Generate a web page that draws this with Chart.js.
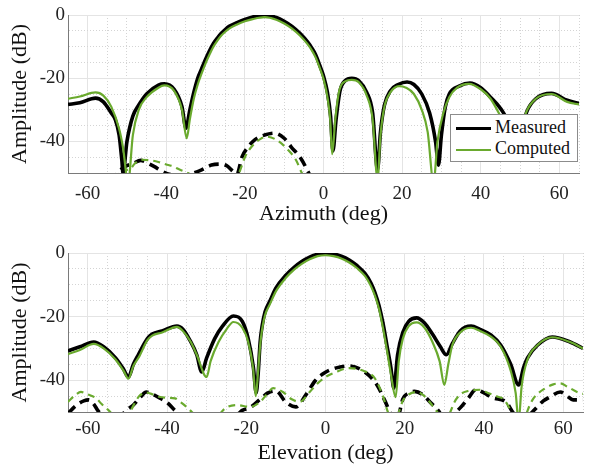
<!DOCTYPE html>
<html>
<head>
<meta charset="utf-8">
<script src="https://cdn.jsdelivr.net/npm/chart.js@4.4.1/dist/chart.umd.min.js"></script>
<style>
  body { margin: 0; background: #fff; }
  #wrap { position: relative; width: 589px; height: 468px; }
  .box { position: absolute; left: 0; width: 589px; height: 234px; }
  #legend {
    position: absolute; left: 450px; top: 114px; width: 126px; height: 46px;
    background: #fff; border: 1px solid #8c8c8c;
    font-family: "Liberation Serif", "Times New Roman", serif; font-size: 18px; color: #111;
  }
  .item { position: absolute; left: 5px; height: 20px; line-height: 20px; white-space: nowrap; }
  .item span.ln { display: inline-block; width: 35px; vertical-align: middle; margin-right: 4px; }
</style>
</head>
<body>
<div id="wrap">
  <div class="box" style="top:0"><canvas id="az"></canvas></div>
  <div class="box" style="top:234px"><canvas id="el"></canvas></div>
  <div id="legend">
    <div class="item" style="top:2px"><span class="ln" style="border-top:3.5px solid #000"></span>Measured</div>
    <div class="item" style="top:23px"><span class="ln" style="border-top:2px solid #6aaa2e"></span>Computed</div>
  </div>
</div>
<script>
// Azimuth cut
const azMeasX = [-65,-62,-58,-56,-54,-53,-52,-51.3,-51,-50,-48.5,-47,-45,-42,-40.5,-38,-36,-35,-34,-33,-32,-31,-30,-29,-28,-27,-26,-25,-24,-22,-20,-18,-15,-12,-10,-8,-6,-4,-3,-2,-1,0,1,1.8,2.4,3.2,4.2,5.5,7.2,9,11,12.5,13.75,14.5,15.5,17,19,21.25,23,25,27,28.5,29.25,30,31,32,34.5,37.25,40,42.5,45,47,49,50.5,51.75,54,58,62,65];
const azMeas  = [-28.3,-27.8,-26.3,-27.5,-31,-33,-38,-46,-50,-40,-32,-28.5,-25,-22.2,-21.8,-23.5,-29,-35.8,-30,-24.5,-20,-17,-14,-11.3,-9,-7.3,-5.8,-4.6,-3.6,-2.4,-1.4,-0.6,0,-0.8,-2,-3.6,-5.8,-8.6,-10.4,-12.6,-15.8,-19.3,-24.5,-32,-43,-33,-24,-20.8,-20,-20.8,-24.5,-31,-49,-37,-28.5,-24,-22,-21.2,-22,-25,-31,-40,-47.5,-38,-29,-25,-22.5,-21.5,-23,-26,-29.5,-34,-44,-36,-30.5,-26.5,-24.8,-27,-28];
const azCompX = [-65,-62,-58,-56,-54,-52,-51,-49.7,-48.5,-47,-45,-42,-40.5,-38,-36,-34.8,-34,-33,-32,-31,-30,-29,-28,-27,-26,-25,-24,-22,-20,-18,-15,-12,-10,-8,-6,-4,-3,-2,-1,0,1,1.7,2.2,3,4,5.5,7.2,9,11,12.5,13.75,14.5,15.5,17,19.25,21,23,25,26.5,28,29,30.5,32,34,37,40,42.5,45,47,49,50.5,51.5,54,58,62,65];
const azComp  = [-26.5,-25.8,-24.5,-25.5,-29,-36,-42,-53,-38,-30,-26,-23,-22.3,-24,-30,-39,-33,-26.5,-22,-18.5,-15.3,-12.5,-10,-8.1,-6.5,-5.3,-4.3,-3,-2,-1.3,-0.7,-1.5,-2.7,-4.3,-6.5,-9.3,-11.1,-13.4,-16.6,-20.2,-26,-33,-44,-33,-24,-21,-20.5,-21.3,-25.5,-33,-52,-38,-29,-24.5,-22.5,-23,-25,-30,-37,-53,-40,-31,-26,-23,-21.8,-23.5,-26.5,-32,-37,-45,-36,-31,-26.5,-25,-27.5,-28.3];
const azMeasXpolX = [-54,-52.5,-50.5,-48.5,-46.5,-44.5,-43,-41,-39,-36,-33,-31,-28.5,-26,-24.5,-23,-22,-20.75,-19,-17.5,-15,-12.5,-10,-8.25,-5.75,-3.75,-2.5];
const azMeasXpol  = [-53,-50,-48,-47,-46,-47,-48,-49.5,-50.5,-51,-50,-49,-47.5,-47.2,-47.8,-49.5,-50.3,-45,-41.5,-39.5,-38,-37.4,-39,-41.7,-45.4,-50,-53];
const azCompXpolX = [-53,-52,-51,-50,-49,-48,-46.25,-44,-42,-40,-38.75,-36.5,-34.5,-33,-30,-25,-22.5,-21.5,-20,-18.25,-16,-14.5,-12,-9,-7,-5.5,-4];
const azCompXpol  = [-52,-50,-48.5,-49,-48.5,-47,-45.8,-46,-46.5,-47.3,-47.7,-49,-50,-51,-53,-53,-52,-50,-45,-41.6,-39.2,-38.5,-39.5,-42.7,-45.9,-50,-53];

// Elevation cut
const elMeasX = [-65,-62,-58.5,-56,-53,-51,-49.75,-48.5,-47.25,-45,-43.75,-41.25,-37.5,-36,-34.25,-32.5,-31.25,-30,-28,-26,-23.25,-21,-19.5,-18.2,-17.5,-17,-16.5,-16,-15.25,-14,-12.5,-10,-8,-6,-4,-2,0,2,4,6,8,10,11.5,12.5,13.5,14.5,15.5,16.5,17.25,18.2,19.5,21,23,25,27,29,30.5,32,34,36.75,39,41.75,44.25,46.75,48.75,50,51,53.5,57.25,61.75,65];
const elMeas  = [-30.8,-29.5,-28,-29.5,-33,-36.5,-39,-35,-32,-27,-25.5,-24.5,-23,-24,-27.4,-32,-37.4,-33,-27,-23,-19.8,-21.5,-27,-36,-44,-38,-28,-23,-18.5,-15,-11,-7,-4.6,-2.7,-1.3,-0.4,0,-0.3,-1,-2.2,-4,-6.5,-9.5,-12.5,-16.5,-22,-29,-36,-42.5,-32,-25,-21.5,-20.4,-22,-25.5,-29.5,-32,-28.5,-24.5,-23,-24,-25.8,-29,-35,-41.5,-36,-33,-29,-26.4,-28,-30];
const elCompX = [-65,-62,-58.5,-56,-53,-51,-49.75,-48.5,-47,-45,-43.75,-41.25,-37.5,-36,-34,-32.5,-30,-29,-27,-25,-23.25,-21,-19.5,-18.3,-17.6,-17,-16.5,-16,-15.25,-14,-12.5,-10,-8,-6,-4,-2,0,2,4,6,8,10,11.5,12.5,13.5,14.5,15.5,16.5,17.7,18.5,19.5,21,23,25,27,28.8,30,31,32,34,36.75,39,41.75,44.25,46.75,48,48.75,49.5,51,53.5,57.25,61.75,65];
const elComp  = [-31.8,-30.5,-28.6,-30,-33.5,-37,-39.5,-35.5,-32.5,-27.5,-26,-25,-23.2,-24.5,-28,-32,-39,-34,-28,-24,-21.7,-23.5,-28,-36,-45,-37,-29,-24,-19.5,-16,-12,-7.8,-5.3,-3.4,-2,-1,-0.7,-1,-1.7,-3,-4.8,-7.3,-10.5,-13.5,-17.5,-23.5,-30.5,-38,-45.3,-34,-27,-23,-21.8,-23.5,-28,-34,-41.5,-35,-29,-25,-23.5,-24.5,-26.3,-29.5,-37,-44,-53,-42,-33.5,-29,-26.5,-28,-30];
const elMeasXpolX = [-65,-63,-61,-59.75,-58.5,-57.5,-56.5,-54,-51.5,-50,-48.5,-46.5,-45.25,-44,-42,-40,-38,-36.5,-34,-30,-25,-22,-21,-19,-16.5,-14.5,-12.5,-10,-7.5,-5,-2.5,0,2.5,6,10,13,15,16.25,17.5,18.5,19.5,21,22.5,24.5,26.5,28.75,30,32,34,36,38,40,42.25,45.5,47.25,49,51,52.5,55,56.75,59.25,61,62.5,65];
const elMeasXpol  = [-50.5,-48,-46.5,-46.2,-47.5,-49.5,-51,-53,-51,-49.2,-47.8,-45,-43.7,-44.2,-45.5,-47,-49.5,-51,-53,-54,-53,-50.5,-49.5,-48.6,-46,-44,-43.4,-46.9,-48.4,-44.7,-40,-37.5,-36.2,-35.5,-37.5,-41.5,-46.5,-50,-53,-51,-46,-44,-43.5,-44.5,-47,-50,-53,-51,-48.7,-45.7,-43,-44,-45.6,-46.8,-50,-53,-51.5,-49.6,-46.5,-45.2,-43.7,-45,-46.2,-46.2];
const elCompXpolX = [-65,-63,-61.75,-60,-58,-56.5,-54.75,-53.5,-51,-49.5,-48.5,-47,-45.25,-43.5,-42,-40,-38,-36.5,-35,-33.75,-32,-29,-27,-25.25,-22.5,-19,-16.5,-14.5,-13.25,-10.75,-8.5,-6.5,-4,-2,0,2.5,6,10,12.5,14.5,15.75,17,18.5,19.5,21,23,25,27,28.5,30,31.5,32.5,34,36,39,41,43.5,45,47,48.5,50.5,51.5,52.5,55.5,57.5,59.25,61,63.5,65];
const elCompXpol  = [-46.8,-44.5,-43.7,-44.5,-45.6,-47.5,-49.5,-51,-53,-50.5,-48,-45,-43.9,-44.5,-45.2,-45.5,-45.7,-47,-48.5,-50,-52,-53,-51,-48.8,-47.8,-48.4,-46.8,-44,-42.5,-43.7,-46,-46.8,-43.7,-41,-39,-37.5,-36.2,-37.3,-39.5,-45,-50,-53,-50,-46.5,-44.5,-43.7,-45,-48,-50.5,-53,-50,-47,-44.5,-43.4,-43,-44,-45.2,-46,-50,-53,-51,-48,-45.7,-42.5,-41.3,-41,-42,-43.7,-44.3];

const GREEN = '#6aaa2e';
const FONT = '"Liberation Serif", "Times New Roman", serif';

function pts(xs, ys) {
    return xs.map((x, i) => ({ x: x, y: ys[i] }));
}

function line(data, color, width, dash, order) {
    return {
        data: data,
        borderColor: color,
        borderWidth: width,
        borderDash: dash,
        pointRadius: 0,
        fill: false,
        cubicInterpolationMode: 'monotone',
        clip: 0,
        order: order
    };
}

// major grid every 20, dotted minor grid every 5
const gridColor = ctx => (ctx.tick && ctx.tick.value % 20 !== 0) ? '#d4d4d4' : '#e4e4e4';
const gridDash = ctx => (ctx.tick && ctx.tick.value % 20 !== 0) ? [1, 2] : [];

function makeChart(id, xTitle, sets, cfg) {
    return new Chart(document.getElementById(id), {
        type: 'line',
        data: { datasets: sets },
        options: {
            responsive: true,
            maintainAspectRatio: false,
            animation: false,
            layout: { padding: { top: cfg.top, right: 1, left: 0, bottom: 0 } },
            plugins: { legend: { display: false }, tooltip: { enabled: false } },
            scales: {
                x: {
                    type: 'linear',
                    min: -65, max: 65,
                    afterFit: s => { s.height = cfg.xHeight; },
                    ticks: {
                        stepSize: 5, autoSkip: false, maxRotation: 0,
                        padding: cfg.tickPad,
                        color: '#222',
                        font: { family: FONT, size: 19 },
                        callback: v => (v % 20 === 0 ? String(v) : '')
                    },
                    grid: { color: gridColor, drawTicks: false },
                    border: { color: '#7a7a7a', width: 1, dash: gridDash },
                    title: {
                        display: true, text: xTitle, color: '#111',
                        font: { family: FONT, size: 22 },
                        padding: { top: 0, bottom: cfg.titlePad }
                    }
                },
                y: {
                    min: -50, max: 0,
                    afterFit: s => { s.width = 68; },
                    ticks: {
                        stepSize: 5, autoSkip: false,
                        padding: 3,
                        color: '#222',
                        font: { family: FONT, size: 19 },
                        callback: v => (v % 20 === 0 ? String(v) : '')
                    },
                    grid: { color: gridColor, drawTicks: false },
                    border: { color: '#7a7a7a', width: 1, dash: gridDash },
                    title: {
                        display: true, text: 'Amplitude (dB)', color: '#111',
                        font: { family: FONT, size: 22 },
                        padding: { top: 7, bottom: 0 }
                    }
                }
            }
        }
    });
}

makeChart('az', 'Azimuth (deg)', [
    line(pts(azCompX, azComp), GREEN, 2.2, [], 0),
    line(pts(azMeasX, azMeas), '#000', 3.6, [], 1),
    line(pts(azCompXpolX, azCompXpol), GREEN, 2.2, [7, 5], 2),
    line(pts(azMeasXpolX, azMeasXpol), '#000', 3.6, [10, 6], 3)
], { top: 15, xHeight: 61, tickPad: 10, titlePad: 7 });

makeChart('el', 'Elevation (deg)', [
    line(pts(elCompX, elComp), GREEN, 2.2, [], 0),
    line(pts(elMeasX, elMeas), '#000', 3.6, [], 1),
    line(pts(elCompXpolX, elCompXpol), GREEN, 2.2, [7, 5], 2),
    line(pts(elMeasXpolX, elMeasXpol), '#000', 3.6, [10, 6], 3)
], { top: 19, xHeight: 56, tickPad: 6, titlePad: 2 });
</script>
</body>
</html>
